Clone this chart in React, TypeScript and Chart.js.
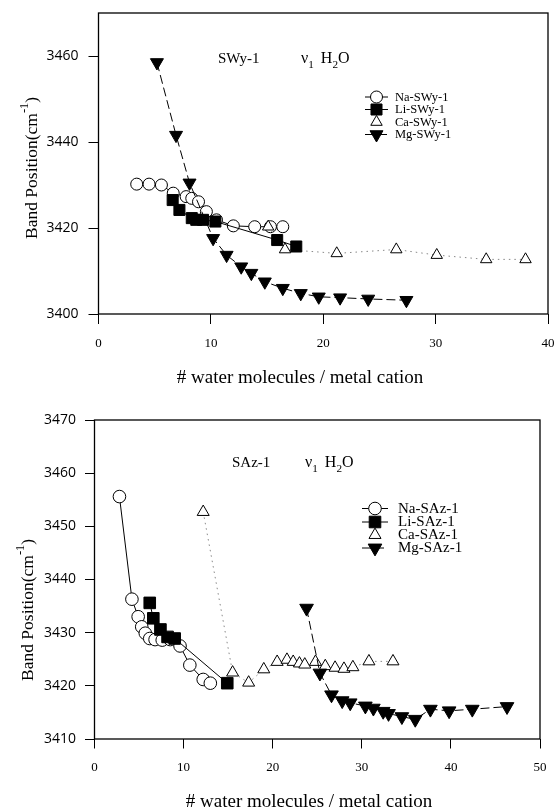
import React, { useEffect, useRef } from "react";
import { Chart, registerables } from "chart.js";

Chart.register(...registerables);

// ---------- Top panel: SWy-1 ----------
const naSWyX = [3.4, 4.5, 5.6, 6.65, 7.8, 8.3, 8.9, 9.6, 10.5, 12.0, 13.9, 15.3, 16.4];
const naSWyY = [3430.2, 3430.2, 3430.0, 3428.1, 3427.3, 3426.9, 3426.1, 3423.8, 3421.9, 3420.5, 3420.3, 3420.3, 3420.3];
const liSWyX = [6.6, 7.2, 8.3, 8.7, 9.3, 10.4, 15.9, 17.6];
const liSWyY = [3426.5, 3424.2, 3422.3, 3421.9, 3421.9, 3421.5, 3417.2, 3415.7];
const caSWyX = [15.1, 16.6, 21.2, 26.5, 30.1, 34.5, 38.0];
const caSWyY = [3420.3, 3415.0, 3414.1, 3415.0, 3413.7, 3412.7, 3412.7];
const mgSWyX = [5.2, 6.9, 8.1, 10.2, 11.4, 12.7, 13.6, 14.8, 16.4, 18.0, 19.6, 21.5, 24.0, 27.4];
const mgSWyY = [3458.5, 3441.6, 3430.5, 3417.6, 3413.7, 3411.0, 3409.5, 3407.5, 3406.0, 3404.8, 3404.0, 3403.8, 3403.5, 3403.2];
const topXTicks = [0, 10, 20, 30, 40];
const topYTicks = [3400, 3420, 3440, 3460];
const topLabels = ["Na-SWy-1", "Li-SWy-1", "Ca-SWy-1", "Mg-SWy-1"];

// ---------- Bottom panel: SAz-1 ----------
const naSAzX = [2.8, 4.2, 4.9, 5.3, 5.7, 6.2, 6.8, 7.6, 8.5, 9.6, 10.7, 12.2, 13.0];
const naSAzY = [3455.6, 3436.3, 3433.0, 3431.1, 3429.9, 3428.9, 3428.7, 3428.6, 3428.7, 3427.5, 3423.9, 3421.2, 3420.5];
const liSAzX = [6.2, 6.6, 7.4, 8.2, 9.0, 14.9];
const liSAzY = [3435.6, 3432.7, 3430.6, 3429.2, 3428.9, 3420.5];
const caSAzX = [12.2, 15.5, 17.3, 19.0, 20.5, 21.6, 22.3, 23.0, 23.6, 24.8, 25.9, 27.0, 28.0, 29.0, 30.8, 33.5];
const caSAzY = [3452.7, 3422.5, 3420.6, 3423.1, 3424.5, 3424.9, 3424.5, 3424.2, 3424.0, 3424.5, 3423.7, 3423.4, 3423.2, 3423.5, 3424.6, 3424.6];
const mgSAzX = [23.8, 25.3, 26.6, 27.8, 28.7, 30.4, 31.3, 32.4, 33.0, 34.5, 36.0, 37.7, 39.8, 42.4, 46.3];
const mgSAzY = [3434.6, 3422.4, 3418.3, 3417.2, 3416.8, 3416.2, 3415.8, 3415.2, 3414.8, 3414.2, 3413.7, 3415.6, 3415.3, 3415.6, 3416.1];
const botXTicks = [0, 10, 20, 30, 40, 50];
const botYTicks = [3410, 3420, 3430, 3440, 3450, 3460, 3470];
const botLabels = ["Na-SAz-1", "Li-SAz-1", "Ca-SAz-1", "Mg-SAz-1"];

const xTitle = "# water molecules / metal cation";

const SERIF = '"Liberation Serif", "Times New Roman", serif';
const SANS = '"Open Sans", "DejaVu Sans", sans-serif';

const pts = (xs: number[], ys: number[]) => xs.map((x, i) => ({ x, y: ys[i] }));

type Part = { t: string; sub?: boolean; sup?: boolean; dx?: number };

function measureRich(ctx: CanvasRenderingContext2D, parts: Part[], size: number) {
  let w = 0;
  for (const p of parts) {
    const s = p.sub || p.sup ? size * 0.7 : size;
    ctx.font = `${s}px ${SERIF}`;
    w += (p.dx || 0) + ctx.measureText(p.t).width;
  }
  return w;
}

function drawRich(ctx: CanvasRenderingContext2D, parts: Part[], x: number, y: number, size: number) {
  let cx = x;
  for (const p of parts) {
    const s = p.sub || p.sup ? size * 0.7 : size;
    ctx.font = `${s}px ${SERIF}`;
    const dy = p.sub ? size * 0.3 : p.sup ? -size * 0.4 : 0;
    cx += p.dx || 0;
    ctx.fillText(p.t, cx, y + dy);
    cx += ctx.measureText(p.t).width;
  }
}

type MarkerKind = "circle" | "rect" | "tri" | "triDown";

function drawMarker(ctx: CanvasRenderingContext2D, kind: MarkerKind, x: number, y: number, r: number, filled: boolean) {
  ctx.beginPath();
  if (kind === "circle") {
    ctx.arc(x, y, r, 0, Math.PI * 2);
  } else if (kind === "rect") {
    const s = Math.SQRT1_2 * r;
    ctx.rect(x - s, y - s, 2 * s, 2 * s);
  } else {
    let rad = kind === "triDown" ? Math.PI : 0;
    for (let i = 0; i < 3; i++) {
      const px = x + Math.sin(rad) * r;
      const py = y - Math.cos(rad) * r;
      if (i === 0) ctx.moveTo(px, py);
      else ctx.lineTo(px, py);
      rad += (2 * Math.PI) / 3;
    }
    ctx.closePath();
  }
  ctx.fillStyle = filled ? "#000" : "#fff";
  ctx.fill();
  ctx.lineWidth = 1;
  ctx.strokeStyle = "#000";
  ctx.setLineDash([]);
  ctx.stroke();
}

interface LegendItem {
  label: string;
  kind: MarkerKind;
  filled: boolean;
  r: number;
  line: "solid" | "dash" | "none";
}

interface DecorOpts {
  sample: string;
  sampleX: number;
  nuX: number;
  annBase: number;
  annSize: number;
  nuSize: number;
  legend: LegendItem[];
  legRows: number[];
  legLineX0: number;
  legLineX1: number;
  legTextX: number;
  legSize: number;
  xTitleX: number;
  xTitleY: number;
  xTitleSize: number;
  yTitleX: number;
  yTitleY: number;
  yTitleSize: number;
}

const decorPlugin = {
  id: "decor",
  afterDraw(chart: any, _args: any, o: DecorOpts) {
    const ctx: CanvasRenderingContext2D = chart.ctx;
    const a = chart.chartArea;
    ctx.save();
    // frame
    ctx.strokeStyle = "#000";
    ctx.lineWidth = 1.3;
    ctx.setLineDash([]);
    ctx.strokeRect(a.left, a.top, a.right - a.left, a.bottom - a.top);

    ctx.fillStyle = "#000";
    ctx.textBaseline = "alphabetic";
    ctx.textAlign = "left";
    // annotation
    ctx.font = `${o.annSize}px ${SERIF}`;
    ctx.fillText(o.sample, o.sampleX, o.annBase);
    drawRich(
      ctx,
      [{ t: "ν" }, { t: "1", sub: true }, { t: "H", dx: 7 }, { t: "2", sub: true }, { t: "O" }],
      o.nuX,
      o.annBase,
      o.nuSize
    );

    // legend
    o.legend.forEach((it, i) => {
      const y = o.legRows[i];
      const cx = (o.legLineX0 + o.legLineX1) / 2;
      if (it.line !== "none") {
        ctx.beginPath();
        ctx.strokeStyle = "#000";
        ctx.lineWidth = 1;
        ctx.setLineDash(it.line === "dash" ? [9, 4] : []);
        ctx.moveTo(o.legLineX0, y);
        ctx.lineTo(o.legLineX1, y);
        ctx.stroke();
        ctx.setLineDash([]);
      }
      drawMarker(ctx, it.kind, cx, y, it.r, it.filled);
      ctx.fillStyle = "#000";
      ctx.font = `${o.legSize}px ${SERIF}`;
      ctx.textBaseline = "middle";
      ctx.fillText(it.label, o.legTextX, y + 0.5);
    });

    // x title
    ctx.textBaseline = "middle";
    ctx.textAlign = "center";
    ctx.font = `${o.xTitleSize}px ${SERIF}`;
    ctx.fillText(xTitle, o.xTitleX, o.xTitleY);

    // y title (rotated)
    const yParts: Part[] = [{ t: "Band Position(cm" }, { t: "-1", sup: true }, { t: ")" }];
    ctx.textAlign = "left";
    ctx.textBaseline = "middle";
    const w = measureRich(ctx, yParts, o.yTitleSize);
    ctx.translate(o.yTitleX, o.yTitleY);
    ctx.rotate(-Math.PI / 2);
    drawRich(ctx, yParts, -w / 2, 0, o.yTitleSize);
    ctx.restore();
  },
};

interface PanelCfg {
  width: number;
  height: number;
  padTop: number;
  padRight: number;
  yAxisW: number;
  xAxisH: number;
  xMin: number;
  xMax: number;
  yMin: number;
  yMax: number;
  xTicks: number[];
  yTicks: number[];
  tickLen: number;
  yPad: number;
  xPad: number;
  series: { x: number[]; y: number[] }[];
  labels: string[];
  decor: Omit<DecorOpts, "legend">;
  rScale: number;
}

function buildConfig(p: PanelCfg): any {
  const [na, li, ca, mg] = p.series;
  const k = p.rScale;
  const legend: LegendItem[] = [
    { label: p.labels[0], kind: "circle", filled: false, r: 6 * k, line: "solid" },
    { label: p.labels[1], kind: "rect", filled: true, r: 7.8 * k, line: "solid" },
    { label: p.labels[2], kind: "tri", filled: false, r: 6.6 * k, line: "none" },
    { label: p.labels[3], kind: "triDown", filled: true, r: 7.5 * k, line: "dash" },
  ];
  return {
    type: "scatter",
    data: {
      datasets: [
        {
          label: p.labels[3],
          data: pts(mg.x, mg.y),
          showLine: true,
          borderColor: "#000",
          borderWidth: 1,
          borderDash: [9, 4],
          pointStyle: "triangle",
          rotation: 180,
          pointRadius: 7.5 * k,
          pointBackgroundColor: "#000",
          pointBorderColor: "#000",
          pointBorderWidth: 1,
        },
        {
          label: p.labels[1],
          data: pts(li.x, li.y),
          showLine: true,
          borderColor: "#000",
          borderWidth: 1,
          pointStyle: "rect",
          pointRadius: 7.8 * k,
          pointBackgroundColor: "#000",
          pointBorderColor: "#000",
          pointBorderWidth: 1,
        },
        {
          label: p.labels[2],
          data: pts(ca.x, ca.y),
          showLine: true,
          borderColor: "#888",
          borderWidth: 1,
          borderDash: [1.5, 4],
          pointStyle: "triangle",
          pointRadius: 6.6 * k,
          pointBackgroundColor: "#fff",
          pointBorderColor: "#000",
          pointBorderWidth: 1,
        },
        {
          label: p.labels[0],
          data: pts(na.x, na.y),
          showLine: true,
          borderColor: "#000",
          borderWidth: 1,
          pointStyle: "circle",
          pointRadius: 6 * k,
          pointBackgroundColor: "#fff",
          pointBorderColor: "#000",
          pointBorderWidth: 1,
        },
      ],
    },
    options: {
      animation: false,
      responsive: false,
      events: [],
      layout: { padding: { left: 0, top: p.padTop, right: p.padRight, bottom: 0 } },
      plugins: {
        legend: { display: false },
        tooltip: { enabled: false },
        decor: { ...p.decor, legend },
      },
      scales: {
        x: {
          type: "linear",
          min: p.xMin,
          max: p.xMax,
          afterFit: (s: any) => {
            s.height = p.xAxisH;
            s.paddingLeft = 0;
            s.paddingRight = 0;
          },
          afterBuildTicks: (s: any) => {
            s.ticks = p.xTicks.map((v) => ({ value: v }));
          },
          ticks: {
            color: "#000",
            font: { family: SERIF, size: 13 },
            padding: p.xPad,
            maxRotation: 0,
            callback: (v: any) => String(v),
          },
          grid: { display: true, drawOnChartArea: false, drawTicks: true, tickLength: p.tickLen, color: "#000", lineWidth: 1 },
          border: { display: false },
        },
        y: {
          type: "linear",
          min: p.yMin,
          max: p.yMax,
          afterFit: (s: any) => {
            s.width = p.yAxisW;
            s.paddingTop = 0;
            s.paddingBottom = 0;
          },
          afterBuildTicks: (s: any) => {
            s.ticks = p.yTicks.map((v) => ({ value: v }));
          },
          ticks: {
            color: "#000",
            font: { family: SANS, size: 14 },
            padding: p.yPad,
            callback: (v: any) => String(v),
          },
          grid: { display: true, drawOnChartArea: false, drawTicks: true, tickLength: p.tickLen, color: "#000", lineWidth: 1 },
          border: { display: false },
        },
      },
    },
    plugins: [decorPlugin],
  };
}

const topPanel: PanelCfg = {
  width: 557,
  height: 400,
  padTop: 13,
  padRight: 9,
  yAxisW: 98.5,
  xAxisH: 86,
  xMin: 0,
  xMax: 40,
  yMin: 3400,
  yMax: 3470,
  xTicks: topXTicks,
  yTicks: topYTicks,
  tickLen: 10,
  yPad: 10,
  xPad: 12,
  series: [
    { x: naSWyX, y: naSWyY },
    { x: liSWyX, y: liSWyY },
    { x: caSWyX, y: caSWyY },
    { x: mgSWyX, y: mgSWyY },
  ],
  labels: topLabels,
  rScale: 1,
  decor: {
    sample: "SWy-1",
    sampleX: 218,
    nuX: 301,
    annBase: 63,
    annSize: 15,
    nuSize: 16,
    legRows: [97, 109.5, 122, 134.5],
    legLineX0: 365,
    legLineX1: 388,
    legTextX: 395,
    legSize: 12.5,
    xTitleX: 300,
    xTitleY: 378,
    xTitleSize: 19,
    yTitleX: 32,
    yTitleY: 168,
    yTitleSize: 17.5,
  },
};

const botPanel: PanelCfg = {
  width: 557,
  height: 411,
  padTop: 20,
  padRight: 17,
  yAxisW: 94.5,
  xAxisH: 72,
  xMin: 0,
  xMax: 50,
  yMin: 3410,
  yMax: 3470,
  xTicks: botXTicks,
  yTicks: botYTicks,
  tickLen: 9.5,
  yPad: 9,
  xPad: 11,
  series: [
    { x: naSAzX, y: naSAzY },
    { x: liSAzX, y: liSAzY },
    { x: caSAzX, y: caSAzY },
    { x: mgSAzX, y: mgSAzY },
  ],
  labels: botLabels,
  rScale: 1.05,
  decor: {
    sample: "SAz-1",
    sampleX: 232,
    nuX: 305,
    annBase: 67,
    annSize: 15,
    nuSize: 16,
    legRows: [108.5, 122, 135, 148],
    legLineX0: 362,
    legLineX1: 388,
    legTextX: 398,
    legSize: 15,
    xTitleX: 309,
    xTitleY: 402,
    xTitleSize: 19,
    yTitleX: 28,
    yTitleY: 210,
    yTitleSize: 17.5,
  },
};

function Panel({ cfg, top }: { cfg: PanelCfg; top: number }) {
  const ref = useRef<HTMLCanvasElement | null>(null);
  useEffect(() => {
    if (!ref.current) return;
    const chart = new Chart(ref.current, buildConfig(cfg));
    return () => chart.destroy();
  }, [cfg]);
  return (
    <canvas
      ref={ref}
      width={cfg.width}
      height={cfg.height}
      style={{ position: "absolute", left: 0, top, width: cfg.width, height: cfg.height, display: "block" }}
    />
  );
}

export default function App() {
  return (
    <div style={{ position: "absolute", left: 0, top: 0, width: 557, height: 811, background: "#fff", overflow: "hidden" }}>
      <Panel cfg={topPanel} top={0} />
      <Panel cfg={botPanel} top={400} />
    </div>
  );
}
